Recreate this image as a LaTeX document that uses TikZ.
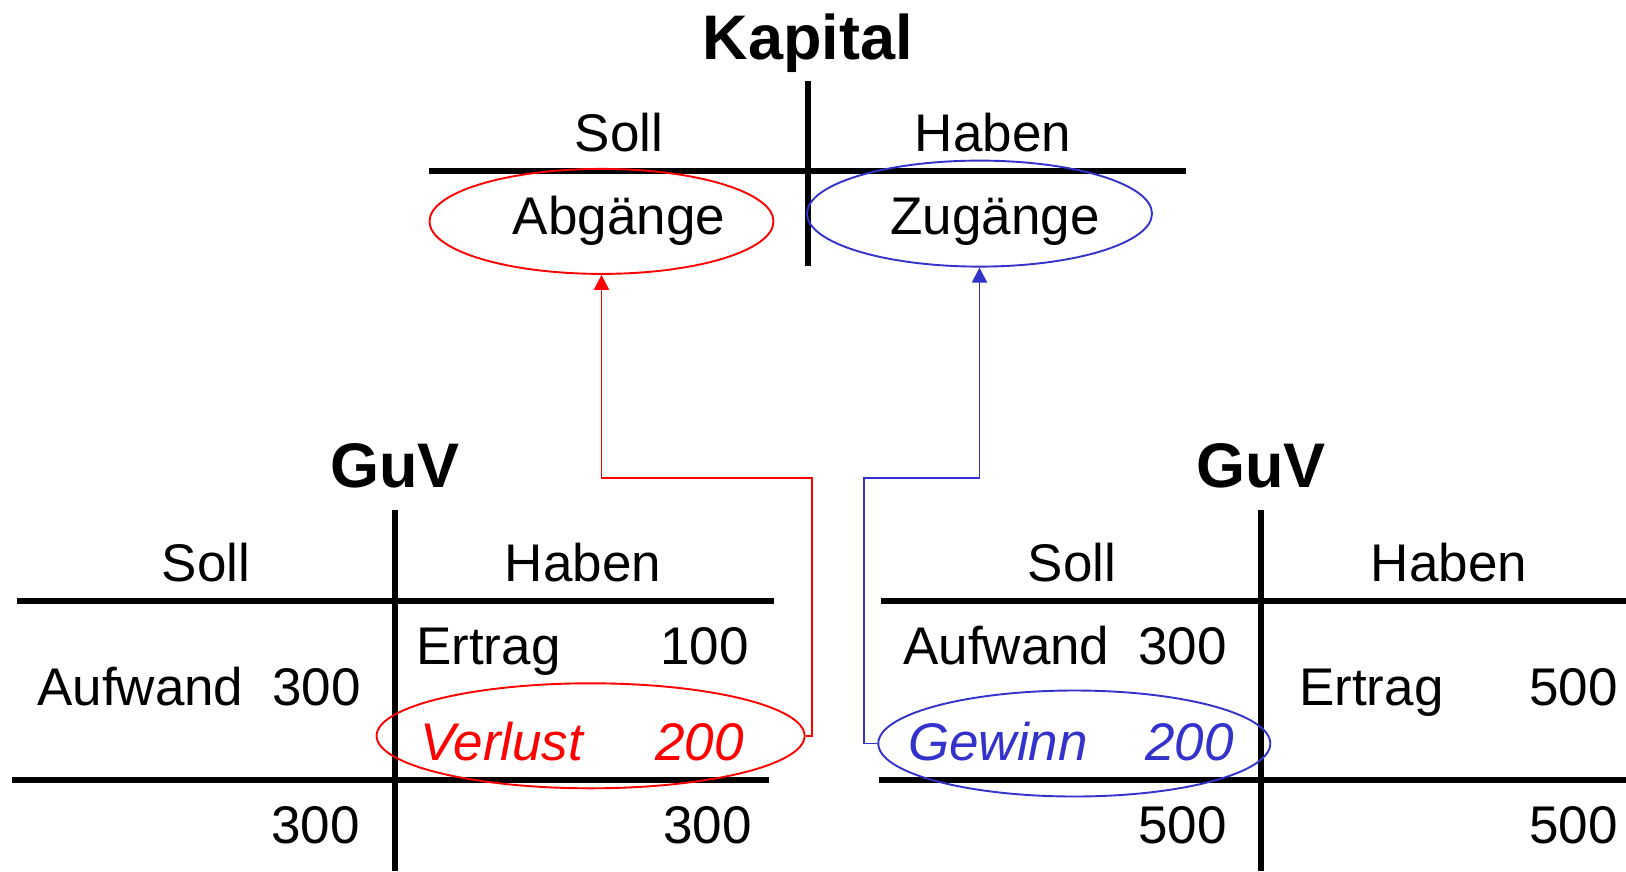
\documentclass[tikz,border=0pt]{standalone}
\usepackage{fontspec}
\setmainfont{Liberation Sans}
\usetikzlibrary{shapes.geometric,arrows.meta}
\definecolor{lossred}{RGB}{255,0,0}
\definecolor{gainblue}{RGB}{51,51,204}

\begin{document}
\begin{tikzpicture}[x=1pt,y=-1pt,
  acct/.style={line width=5.2pt},
  txt/.style={inner sep=0pt,font=\fontsize{53}{60}\selectfont},
  ttl/.style={inner sep=0pt,font=\fontsize{63}{70}\selectfont\bfseries},
  ring/.style={ellipse,draw,line width=1.9pt,inner sep=0pt},
  link/.style={line width=1.9pt,-{Triangle[width=15pt,length=15pt]}}]

\useasboundingbox (0,0) rectangle (1626,871);

% ---------- Kapital account ----------
\node[ttl,anchor=base] (kap) at (808,59) {Kapital};
\draw[acct] (808,81) -- (808,266);
\draw[acct] (429,171) -- (1186,171);
\node[ring,draw=lossred,minimum width=344pt,minimum height=105pt] (aell) at (601.5,221.4) {};
\node[ring,draw=gainblue,minimum width=345pt,minimum height=106pt] (zell) at (979.5,213.6) {};
\node[txt,anchor=base] (ksoll) at (619,151) {Soll};
\node[txt,anchor=base] (khaben) at (993,151) {Haben};
\node[txt,anchor=base] (kab) at (619,234) {Abgänge};
\node[txt,anchor=base] (kzu) at (995,234) {Zugänge};

% ---------- GuV with loss ----------
\node[ttl,anchor=base] (guvl) at (395,487) {GuV};
\draw[acct] (395,510) -- (395,871);
\draw[acct] (17,601) -- (774,601);
\draw[acct] (12,780) -- (769,780);
\node[ring,draw=lossred,minimum width=428pt,minimum height=105pt] (vell) at (590.6,735.8) {};
\node[txt,anchor=base] (lsoll) at (206,581) {Soll};
\node[txt,anchor=base] (lhaben) at (583,581) {Haben};
\node[txt,anchor=base west] (laufw) at (37,705) {Aufwand};
\node[txt,anchor=base east] (laufwv) at (361,705) {300};
\node[txt,anchor=base west] (lertr) at (416,664) {Ertrag};
\node[txt,anchor=base east] (lertrv) at (749,664) {100};
\node[txt,anchor=base west,text=lossred,font=\fontsize{53}{60}\selectfont\itshape] (lverl) at (420,760) {Verlust};
\node[txt,anchor=base east,text=lossred,font=\fontsize{53}{60}\selectfont\itshape] (lverlv) at (744,760) {200};
\node[txt,anchor=base east] (lsums) at (360,843) {300};
\node[txt,anchor=base east] (lsumh) at (752,843) {300};

% ---------- GuV with profit ----------
\node[ttl,anchor=base] (guvr) at (1261,487) {GuV};
\draw[acct] (1261,510) -- (1261,871);
\draw[acct] (881,601) -- (1626,601);
\draw[acct] (879,780) -- (1626,780);
\node[ring,draw=gainblue,minimum width=392pt,minimum height=106pt] (gell) at (1074.3,743.5) {};
\node[txt,anchor=base] (rsoll) at (1072,581) {Soll};
\node[txt,anchor=base] (rhaben) at (1449,581) {Haben};
\node[txt,anchor=base west] (raufw) at (903,664) {Aufwand};
\node[txt,anchor=base east] (raufwv) at (1227,664) {300};
\node[txt,anchor=base west] (rertr) at (1299,705) {Ertrag};
\node[txt,anchor=base east] (rertrv) at (1618,705) {500};
\node[txt,anchor=base west,text=gainblue,font=\fontsize{53}{60}\selectfont\itshape] (rgew) at (908,760) {Gewinn};
\node[txt,anchor=base east,text=gainblue,font=\fontsize{53}{60}\selectfont\itshape] (rgewv) at (1234,760) {200};
\node[txt,anchor=base east] (rsums) at (1227,843) {500};
\node[txt,anchor=base east] (rsumh) at (1618,843) {500};

% ---------- transfers to Kapital ----------
\coordinate (rbend) at (601.5,478);
\coordinate (bbend) at (979.5,478);
\draw[link,draw=lossred] (vell.east) -- ++(6.5,0) |- (rbend) -- (aell.south);
\draw[link,draw=gainblue] (gell.west) -- ++(-13.5,0) |- (bbend) -- (zell.south);
\end{tikzpicture}
\end{document}
